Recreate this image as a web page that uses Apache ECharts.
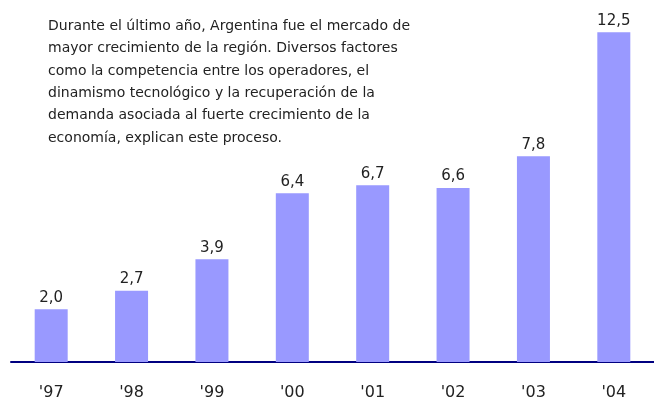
<!DOCTYPE html>
<html>
<head>
<meta charset="utf-8">
<script src="https://cdn.jsdelivr.net/npm/echarts@6/dist/echarts.min.js"></script>
<style>
  html, body { margin: 0; padding: 0; background: #fff; }
  #chart { width: 654px; height: 404px; }
</style>
</head>
<body>
<div id="chart"></div>
<script>
// Años y valores de crecimiento del mercado
const years = ["'97", "'98", "'99", "'00", "'01", "'02", "'03", "'04"];
const values = [2.0, 2.7, 3.9, 6.4, 6.7, 6.6, 7.8, 12.5];

const noteLines = [
  'Durante el último año, Argentina fue el mercado de',
  'mayor crecimiento de la región. Diversos factores',
  'como la competencia entre los operadores, el',
  'dinamismo tecnológico y la recuperación de la',
  'demanda asociada al fuerte crecimiento de la',
  'economía, explican este proceso.'
];

const FONT = '"DejaVu Sans", Verdana, sans-serif';

const chart = echarts.init(document.getElementById('chart'), null, { renderer: 'canvas' });

chart.setOption({
  animation: false,
  backgroundColor: '#ffffff',
  grid: { left: 11, right: -5, top: 6, bottom: 42, containLabel: false },
  xAxis: {
    type: 'category',
    data: years,
    boundaryGap: true,
    axisLine: { show: true, lineStyle: { color: '#000080', width: 2 } },
    axisTick: { show: false },
    axisLabel: { color: '#222', fontSize: 16, fontFamily: FONT, margin: 23 }
  },
  yAxis: {
    type: 'value',
    min: 0,
    max: 13.5,
    show: false,
    splitLine: { show: false }
  },
  series: [{
    type: 'bar',
    data: values,
    barWidth: 33,
    itemStyle: { color: '#9999ff' },
    label: {
      show: true,
      position: 'top',
      distance: 4,
      color: '#222',
      fontSize: 15,
      fontFamily: FONT,
      formatter: p => p.value.toFixed(1).replace('.', ',')
    }
  }],
  graphic: [{
    type: 'text',
    left: 48,
    top: 15,
    style: {
      text: noteLines.join('\n'),
      fill: '#222',
      font: '14px ' + FONT,
      lineHeight: 22.4
    }
  }]
});
</script>
</body>
</html>
